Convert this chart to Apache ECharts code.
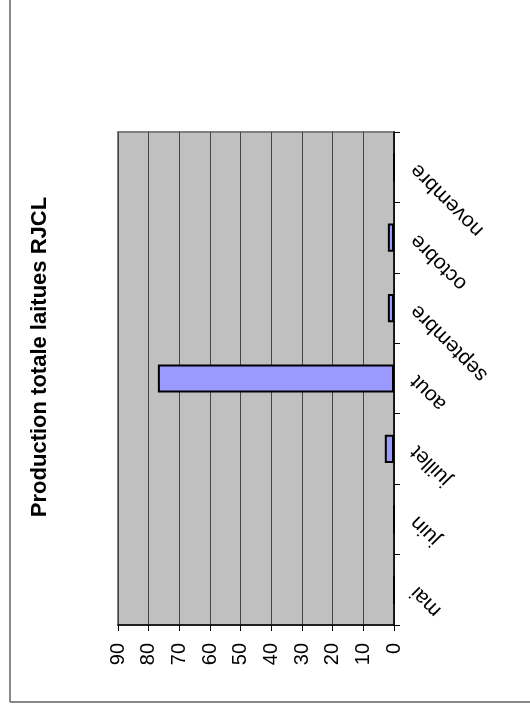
<!DOCTYPE html>
<html>
<head>
<meta charset="utf-8">
<script src="https://cdn.jsdelivr.net/npm/echarts@6/dist/echarts.min.js"></script>
<style>html,body{margin:0;padding:0;background:#fff}#c{width:530px;height:715px}</style>
</head>
<body>
<div id="c"></div>
<script>
const titleText = 'Production totale laitues RJCL';
const categories = ['mai', 'juin', 'juillet', 'aout', 'septembre', 'octobre', 'novembre'];
const production = [0, 0, 3, 77, 2, 2, 0];
const valueMin = 0, valueMax = 90, valueStep = 10;

const chart = echarts.init(document.getElementById('c'), null, {renderer: 'canvas'});
const FONT = '"Liberation Sans", Arial, sans-serif';
chart.setOption({
  animation: false,
  backgroundColor: '#ffffff',
  grid: {
    left: 118, right: 136, top: 132, bottom: 90,
    show: true, backgroundColor: '#C0C0C0', borderColor: '#808080', borderWidth: 2,
    containLabel: false
  },
  xAxis: {
    type: 'value', inverse: true, position: 'bottom',
    min: valueMin, max: valueMax, interval: valueStep,
    axisLine: {show: true, lineStyle: {color: '#000', width: 1.5}},
    axisTick: {show: true, length: 6, lineStyle: {color: '#000'}},
    splitLine: {show: true, lineStyle: {color: '#444', width: 1}},
    axisLabel: {rotate: 90, margin: 18, fontSize: 20, color: '#000', fontFamily: FONT}
  },
  yAxis: {
    type: 'category', position: 'right', data: categories,
    axisLine: {show: true, lineStyle: {color: '#000', width: 1.5}},
    axisTick: {show: true, length: 6, lineStyle: {color: '#000'}},
    splitLine: {show: false},
    axisLabel: {rotate: 135, margin: 20, fontSize: 21, color: '#000', fontFamily: FONT}
  },
  series: [{
    type: 'bar', data: production, barWidth: '40%',
    itemStyle: {color: '#9999FF', borderColor: '#000', borderWidth: 2}
  }],
  graphic: [
    {type: 'text', x: 40, y: 357, rotation: Math.PI / 2,
     style: {text: titleText, font: 'bold 22px ' + FONT, fill: '#000', align: 'center', verticalAlign: 'middle'}},
    {type: 'line', shape: {x1: 10, y1: 0, x2: 10, y2: 702}, style: {stroke: '#606060', lineWidth: 1.5}},
    {type: 'line', shape: {x1: 10, y1: 702, x2: 530, y2: 702}, style: {stroke: '#606060', lineWidth: 1.5}}
  ]
});
</script>
</body>
</html>
